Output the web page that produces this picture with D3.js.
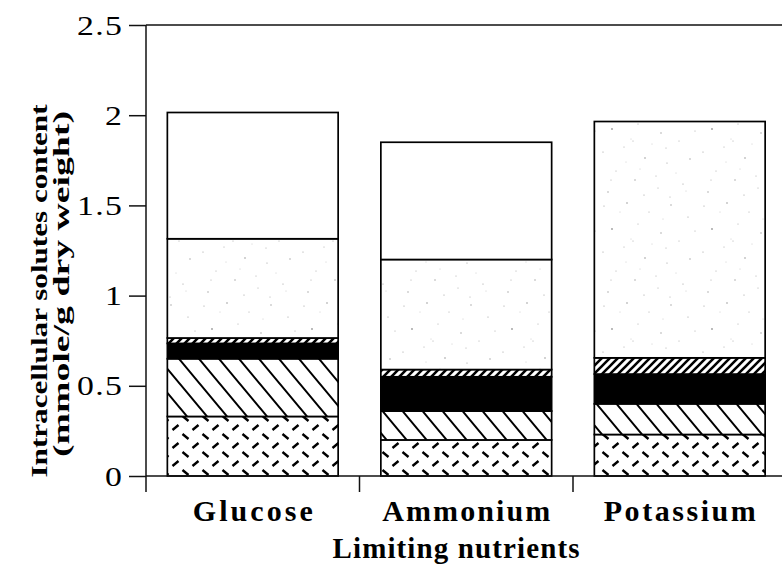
<!DOCTYPE html>
<html>
<head>
<meta charset="utf-8">
<script src="https://cdn.jsdelivr.net/npm/d3@7/dist/d3.min.js"></script>
<style>
  html, body { margin: 0; padding: 0; background: #fff; }
  svg { display: block; }
  text { font-family: "Liberation Serif", "Times New Roman", serif; fill: #000; }
</style>
</head>
<body>
<svg id="chart" width="782" height="565"></svg>
<script>
// Limiting nutrients on the x axis
const categories = ["Glucose", "Ammonium", "Potassium"];

// Stacked solute pools (mmole/g dry weight), bottom to top
const layerDashed  = [0.33, 0.20, 0.23];
const layerDiag    = [0.32, 0.16, 0.17];
const layerBlack   = [0.085, 0.19, 0.165];
const layerHatch   = [0.03, 0.04, 0.09];
const layerStipple = [0.55, 0.61, 1.31];
const layerWhite   = [0.70, 0.65, 0.00];

const yTicks = [0, 0.5, 1, 1.5, 2, 2.5];
const yTickLabels = ["0", "0.5", "1", "1.5", "2", "2.5"];

const yTitle = ["Intracellular solutes content", "(mmole/g dry weight)"];
const xTitle = "Limiting nutrients";

const keys = ["dashed", "diag", "black", "hatch", "stipple", "white"];
const layers = [layerDashed, layerDiag, layerBlack, layerHatch, layerStipple, layerWhite];
const rows = categories.map((c, i) => {
  const r = { category: c };
  keys.forEach((k, j) => { r[k] = layers[j][i]; });
  return r;
});

const svg = d3.select("#chart");

const y = d3.scaleLinear().domain([0, 2.5]).range([476, 25]);
const x = d3.scaleBand().domain(categories).range([146, 786.5])
  .paddingInner(0.2).paddingOuter(0.1);

// ---- fill patterns ----
const defs = svg.append("defs");

// short dashes in two directions, staggered
const pDash = defs.append("pattern").attr("id", "p-dashed")
  .attr("patternUnits", "userSpaceOnUse").attr("width", 20).attr("height", 18);
pDash.append("rect").attr("width", 20).attr("height", 18).attr("fill", "#fff");
pDash.append("path").attr("d", "M2.5,2 L8.5,7 M12.5,16 L18.5,11")
  .attr("stroke", "#000").attr("stroke-width", 2.4).attr("stroke-linecap", "butt");

// wide backslash diagonals (steeper than 45 degrees)
const dw = 20, dh = 24;
const pDiag = defs.append("pattern").attr("id", "p-diag")
  .attr("patternUnits", "userSpaceOnUse").attr("width", dw).attr("height", dh);
pDiag.append("rect").attr("width", dw).attr("height", dh).attr("fill", "#fff");
pDiag.append("path")
  .attr("d", `M${-dw * 0.25},${-dh * 0.25} L${dw * 1.25},${dh * 1.25}
              M${dw * 0.75},${-dh * 0.25} L${dw * 1.25},${dh * 0.25}
              M${-dw * 0.25},${dh * 0.75} L${dw * 0.25},${dh * 1.25}`)
  .attr("stroke", "#000").attr("stroke-width", 2);

// dense forward-slash hatch
const pHatch = defs.append("pattern").attr("id", "p-hatch")
  .attr("patternUnits", "userSpaceOnUse").attr("width", 8).attr("height", 8);
pHatch.append("rect").attr("width", 8).attr("height", 8).attr("fill", "#fff");
pHatch.append("path").attr("d", "M-2,10 L10,-2 M-2,2 L2,-2 M6,10 L10,6")
  .attr("stroke", "#000").attr("stroke-width", 2.6);

// light, irregular stipple
const stippleDots = [
  [4, 6, 0.6], [27, 3, 0.8], [49, 12, 0.5], [71, 5, 0.7], [88, 17, 0.6],
  [12, 29, 0.9], [38, 24, 0.5], [61, 33, 0.7], [79, 41, 0.5], [3, 52, 0.6],
  [24, 47, 0.5], [45, 58, 0.8], [67, 63, 0.6], [90, 59, 0.7], [16, 71, 0.5],
  [35, 80, 0.7], [56, 76, 0.5], [83, 84, 0.6], [8, 92, 0.7], [44, 95, 0.6],
  [70, 97, 0.5], [31, 39, 0.4], [52, 44, 0.4], [95, 31, 0.5], [20, 12, 0.4],
  [63, 19, 0.4], [40, 69, 0.4], [76, 73, 0.4], [58, 88, 0.5], [26, 62, 0.4],
  [33, 41, 0.5], [66, 48, 0.5], [86, 91, 0.4], [11, 80, 0.5]
];
const pStip = defs.append("pattern").attr("id", "p-stipple")
  .attr("patternUnits", "userSpaceOnUse").attr("width", 100).attr("height", 100);
pStip.append("rect").attr("width", 100).attr("height", 100).attr("fill", "#fff");
pStip.selectAll("circle").data(stippleDots).join("circle")
  .attr("cx", d => d[0]).attr("cy", d => d[1]).attr("r", d => d[2]).attr("fill", "#9c9c9c");

const fills = {
  dashed: "url(#p-dashed)",
  diag: "url(#p-diag)",
  black: "#000",
  hatch: "url(#p-hatch)",
  stipple: "url(#p-stipple)",
  white: "#fff"
};

// ---- stacked bars ----
const stacked = d3.stack().keys(keys)(rows);

svg.append("g").selectAll("g").data(stacked).join("g")
  .attr("fill", d => fills[d.key])
  .selectAll("rect").data(d => d.filter(s => s[1] - s[0] > 0)).join("rect")
  .attr("x", d => x(d.data.category))
  .attr("width", x.bandwidth())
  .attr("y", d => y(d[1]))
  .attr("height", d => y(d[0]) - y(d[1]))
  .attr("stroke", "#000").attr("stroke-width", 1.7);

// ---- axes ----
const axisColor = "#111";

// y axis
const yAxis = d3.axisLeft(y).tickValues(yTicks)
  .tickFormat((d, i) => yTickLabels[i]).tickSize(17).tickPadding(6);
const gy = svg.append("g").attr("transform", "translate(146,0)").call(yAxis);
gy.select(".domain").remove();
gy.selectAll(".tick line").attr("stroke", axisColor).attr("stroke-width", 1.5);
gy.selectAll(".tick text")
  .attr("font-size", 27)
  .attr("x", -23 / 1.25)
  .attr("transform", "scale(1.25,1)")
  .attr("dy", "0.34em")
  .attr("letter-spacing", 1)
  .style("font-family", "'Liberation Serif', serif");

svg.append("line").attr("x1", 146).attr("x2", 146).attr("y1", y(2.5)).attr("y2", 492)
  .attr("stroke", axisColor).attr("stroke-width", 1.5);
svg.append("line").attr("x1", 146).attr("x2", 782).attr("y1", y(2.5)).attr("y2", y(2.5))
  .attr("stroke", axisColor).attr("stroke-width", 1.5);

// x axis baseline and category boundary ticks
svg.append("line").attr("x1", 146).attr("x2", 782).attr("y1", y(0)).attr("y2", y(0))
  .attr("stroke", axisColor).attr("stroke-width", 1.5);
const boundaries = categories.slice(1).map(c => x(c) - x.step() * x.paddingInner() / 2);
svg.append("g").selectAll("line").data(boundaries).join("line")
  .attr("x1", d => d).attr("x2", d => d).attr("y1", y(0)).attr("y2", 492)
  .attr("stroke", axisColor).attr("stroke-width", 1.5);

// category labels
const catWidths = { Glucose: 120, Ammonium: 168, Potassium: 152 };
svg.append("g").selectAll("text").data(categories).join("text")
  .attr("x", d => x(d) + x.bandwidth() / 2)
  .attr("y", 521)
  .attr("text-anchor", "middle")
  .attr("font-size", 30).attr("font-weight", "bold")
  .attr("textLength", d => catWidths[d])
  .attr("lengthAdjust", "spacing")
  .text(d => d);

// x title
svg.append("text")
  .attr("x", 456).attr("y", 558)
  .attr("text-anchor", "middle")
  .attr("font-size", 29).attr("font-weight", "bold")
  .attr("textLength", 247).attr("lengthAdjust", "spacing")
  .text(xTitle);

// y title (two rotated lines, glyphs elongated along the line)
const yTitleX = [47, 69];
const yTitleLen = [373, 346];
svg.append("g").selectAll("text").data(yTitle).join("text")
  .attr("transform", (d, i) => `translate(${yTitleX[i]},${i === 0 ? 291 : 284}) rotate(-90)`)
  .attr("text-anchor", "middle")
  .attr("font-size", 24).attr("font-weight", "bold")
  .attr("textLength", (d, i) => yTitleLen[i])
  .attr("lengthAdjust", "spacingAndGlyphs")
  .text(d => d);
</script>
</body>
</html>
